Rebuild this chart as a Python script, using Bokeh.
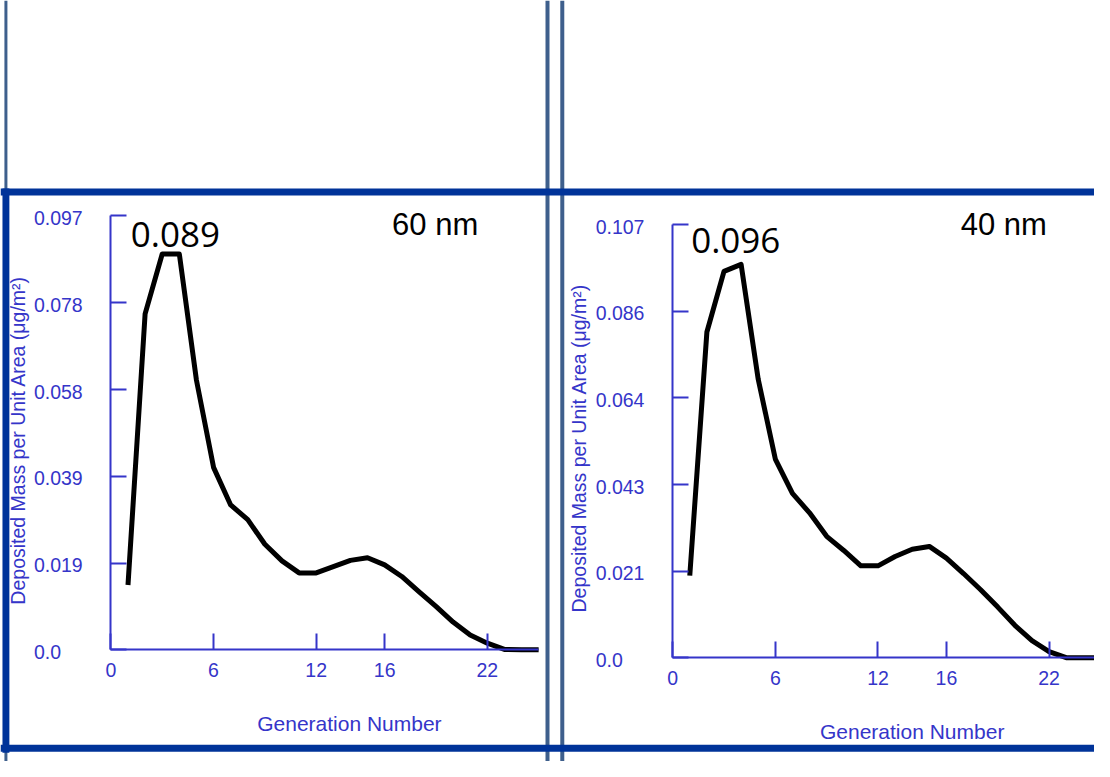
import math
from bokeh.plotting import figure
from bokeh.models import Range1d, LinearAxis, FixedTicker, Span, Label, BoxAnnotation
from bokeh.core.properties import value
from bokeh.embed import file_html
from bokeh.resources import INLINE

# ---------------- data ----------------
generation = list(range(1, 26))
mass_60nm = [0.0145, 0.0751, 0.0885, 0.0885, 0.0603, 0.0408, 0.0324, 0.0291, 0.0236, 0.0199,
             0.0172, 0.0172, 0.0186, 0.0200, 0.0206, 0.0190, 0.0164, 0.0130, 0.0097, 0.0062,
             0.0033, 0.0015, 0.0001, 0.0, 0.0]
mass_40nm = [0.0203, 0.0805, 0.0955, 0.0972, 0.0688, 0.0491, 0.0406, 0.0358, 0.0300, 0.0265,
             0.0227, 0.0227, 0.0250, 0.0268, 0.0275, 0.0246, 0.0208, 0.0168, 0.0125, 0.0080,
             0.0042, 0.0015, 0.0, 0.0, 0.0]
x_ticks = [0, 6, 12, 16, 22]
y_ticks_60nm = [0.0, 0.0194, 0.0388, 0.0582, 0.0776, 0.097]
y_labels_60nm = ["0.0", "0.019", "0.039", "0.058", "0.078", "0.097"]
y_ticks_40nm = [0.0, 0.0214, 0.0428, 0.0642, 0.0856, 0.107]
y_labels_40nm = ["0.0", "0.021", "0.043", "0.064", "0.086", "0.107"]
peak_labels = ["0.089", "0.096"]
size_labels = ["60 nm", "40 nm"]
x_title = "Generation Number"
y_title = "Deposited Mass per Unit Area (\u03bcg/m\u00b2)"

# ---------------- style / layout ----------------
W, H = 1094, 761          # canvas size (fits the 1110x777 window with its 8px margin)
RW, RH = 1110, 777        # layout positions below are given on a 1110x777 grid
BLUE = "#3535c9"
NAVY = "#003399"
STEEL = "#3e5f8c"
FONT = "Liberation Sans"
TICK_FS = "19.5px"

p = figure(width=W, height=H, x_range=Range1d(0, RW), y_range=Range1d(RH, 0),
           x_axis_type=None, y_axis_type=None, toolbar_location=None, output_backend="svg",
           min_border=0, title=None, outline_line_color=None)
p.background_fill_color = "white"
p.border_fill_color = "white"


def mapped_range(pa, va, pb, vb, lo, hi):
    k = (vb - va) / (pb - pa)
    return Range1d(start=va + (lo - pa) * k, end=va + (hi - pa) * k)


# decorative slide frame
for xl, lw in ((5.5, 3), (555, 4), (570, 4)):
    p.add_layout(Span(location=xl, dimension="height", line_color=STEEL, line_width=lw, level="underlay"))
p.add_layout(BoxAnnotation(left=2, right=9, top=192, bottom=768, fill_color=NAVY, fill_alpha=1,
                           line_color=None))
for yl in (195.5, 763.5):
    p.add_layout(Span(location=yl, dimension="width", line_color=NAVY, line_width=7))

panels = [
    dict(key="a", x0=112, y0=663, ytop=220, ymax=0.097, yt=y_ticks_60nm, yl=y_labels_60nm,
         vals=mass_60nm, peak=peak_labels[0], peak_xy=(177.5, 239), size=size_labels[0],
         size_xy=(441, 228.5), xt_xy=(354, 738.5), yt_xy=(18, 449)),
    dict(key="b", x0=682, y0=671, ytop=229, ymax=0.107, yt=y_ticks_40nm, yl=y_labels_40nm,
         vals=mass_40nm, peak=peak_labels[1], peak_xy=(746, 245.5), size=size_labels[1],
         size_xy=(1018, 228.5), xt_xy=(925, 746.5), yt_xy=(587, 457)),
]
PX_PER_GEN = 17.36

for pn in panels:
    xn, yn = "x" + pn["key"], "y" + pn["key"]
    p.extra_x_ranges[xn] = mapped_range(pn["x0"], 0.0, pn["x0"] + 22 * PX_PER_GEN, 22.0, 0, RW)
    p.extra_y_ranges[yn] = mapped_range(pn["y0"], 0.0, pn["ytop"], pn["ymax"], RH, 0)

    yax = LinearAxis(x_range_name=xn, y_range_name=yn, fixed_location=0, bounds=(0, pn["ymax"]),
                     ticker=FixedTicker(ticks=pn["yt"]), major_tick_in=16, major_tick_out=0,
                     minor_tick_line_color=None, axis_line_color=BLUE, axis_line_width=2,
                     major_tick_line_color=BLUE, major_tick_line_width=2,
                     major_label_text_color=None)
    p.add_layout(yax, "left")

    xax = LinearAxis(x_range_name=xn, y_range_name=yn, fixed_location=0, bounds=(0, 25),
                     ticker=FixedTicker(ticks=x_ticks), major_tick_in=16, major_tick_out=0,
                     minor_tick_line_color=None, axis_line_color=BLUE, axis_line_width=2,
                     major_tick_line_color=BLUE, major_tick_line_width=2,
                     major_label_standoff=13, major_label_text_color=BLUE,
                     major_label_text_font=FONT, major_label_text_font_size=TICK_FS)
    p.add_layout(xax, "below")

    # y tick labels, left aligned like the original
    p.text(x=[x_ticks[0]] * len(pn["yt"]), y=pn["yt"], text=pn["yl"], x_range_name=xn, y_range_name=yn,
           x_offset=-77, y_offset=2, text_align="left", text_baseline="middle",
           text_font=value(FONT), text_font_size=TICK_FS, text_color=BLUE)

    p.line(generation, pn["vals"], x_range_name=xn, y_range_name=yn,
           line_color="black", line_width=5, line_join="round")

    p.add_layout(Label(x=pn["peak_xy"][0], y=pn["peak_xy"][1], text=pn["peak"], text_align="center",
                       text_baseline="middle", text_font="Open Sans", text_font_size="35px",
                       text_color="black"))
    p.add_layout(Label(x=pn["size_xy"][0], y=pn["size_xy"][1], text=pn["size"], text_align="center",
                       text_baseline="middle", text_font=FONT, text_font_size="31px",
                       text_color="black"))
    p.add_layout(Label(x=pn["xt_xy"][0], y=pn["xt_xy"][1], text=x_title, text_align="center",
                       text_baseline="middle", text_font=FONT, text_font_size="21px",
                       text_color=BLUE))
    p.add_layout(Label(x=pn["yt_xy"][0], y=pn["yt_xy"][1], text=y_title, text_align="center",
                       text_baseline="middle", angle=math.pi / 2, text_font=FONT,
                       text_font_size="19.5px", text_color=BLUE))

open("out.html", "w").write(file_html(p, INLINE))
